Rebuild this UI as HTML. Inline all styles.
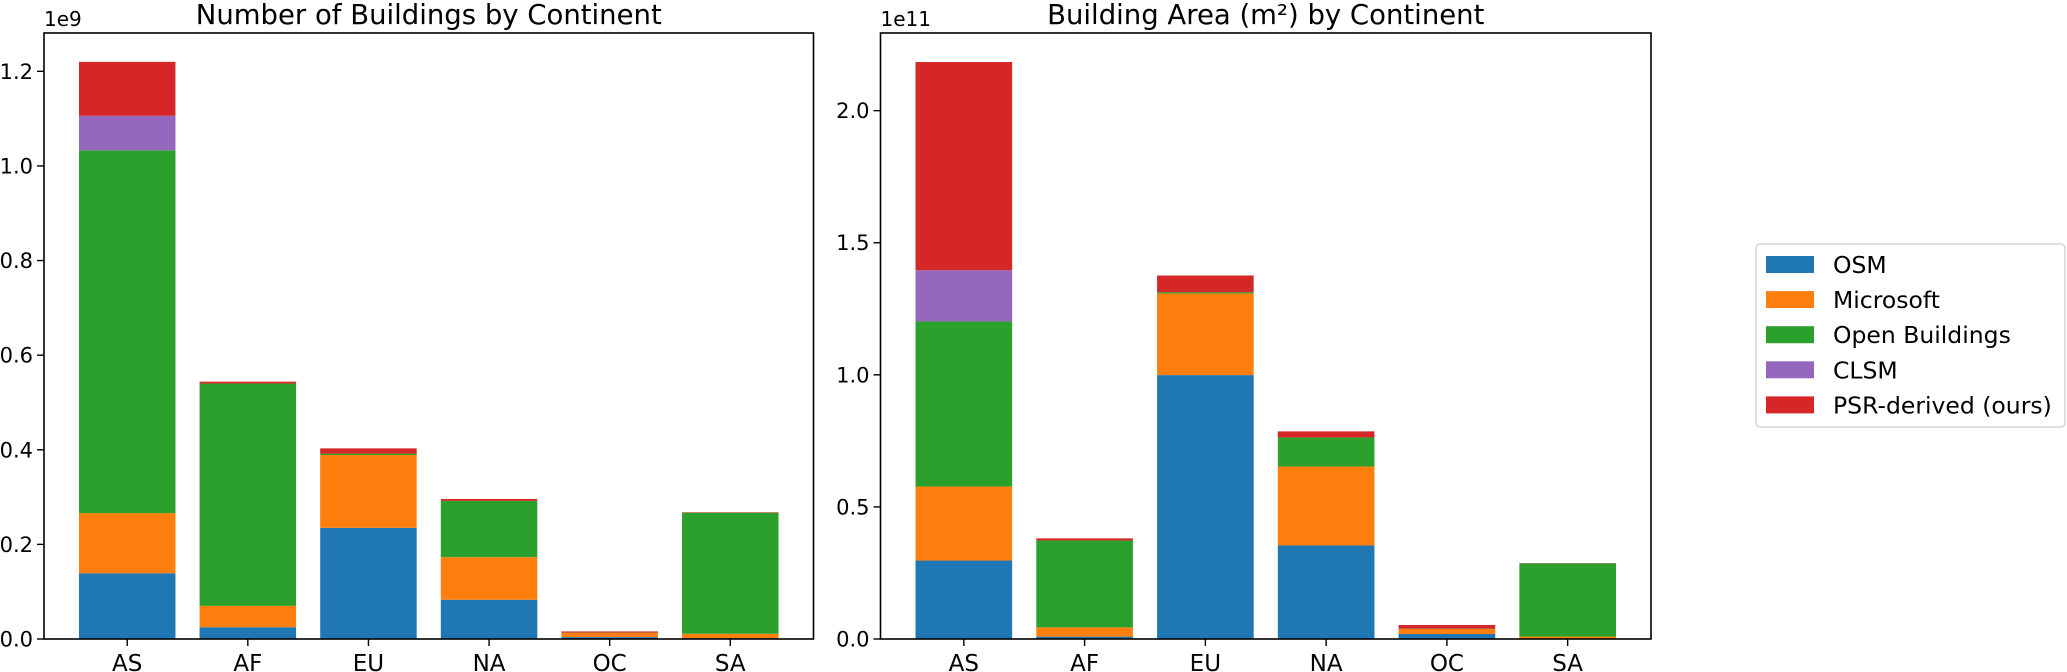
<!DOCTYPE html>
<html><head><meta charset="utf-8">
<style>
html,body{margin:0;padding:0;background:#fff;}
svg{display:block;font-family:"DejaVu Sans","Liberation Sans",sans-serif;}
</style></head>
<body>
<svg id="chart" width="2067" height="672" xmlns="http://www.w3.org/2000/svg"></svg>
<script>
const categories = ["AS","AF","EU","NA","OC","SA"];
const seriesNames = ["OSM","Microsoft","Open Buildings","CLSM","PSR-derived (ours)"];
const seriesColors = ["#1f77b4","#ff7f0e","#2ca02c","#9467bd","#d62728"];
// Number of buildings (1e9), per series per continent
const countOSM = [0.139,0.025,0.235,0.083,0.004,0.002];
const countMicrosoft = [0.127,0.045,0.154,0.090,0.009,0.009];
const countOpenBuildings = [0.767,0.470,0.003,0.119,0.0005,0.256];
const countCLSM = [0.073,0,0,0,0,0];
const countPSR = [0.114,0.004,0.011,0.004,0.0025,0.001];
// Building area (1e11 m2)
const areaOSM = [0.297,0.009,0.999,0.354,0.019,0.001];
const areaMicrosoft = [0.280,0.035,0.309,0.299,0.019,0.008];
const areaOpenBuildings = [0.625,0.329,0.005,0.110,0.001,0.277];
const areaCLSM = [0.194,0,0,0,0,0];
const areaPSR = [0.788,0.008,0.063,0.023,0.014,0.001];
const leftTicks = [0,0.2,0.4,0.6,0.8,1.0,1.2];
const leftTickLabels = ["0.0","0.2","0.4","0.6","0.8","1.0","1.2"];
const rightTicks = [0,0.5,1.0,1.5,2.0];
const rightTickLabels = ["0.0","0.5","1.0","1.5","2.0"];

const NS="http://www.w3.org/2000/svg";
const svg=document.getElementById('chart');
function mk(tag,attrs,parent){const e=document.createElementNS(NS,tag);for(const k in attrs)e.setAttribute(k,attrs[k]);(parent||svg).appendChild(e);return e;}

function drawPanel(opts){
  const g=mk('g',{});
  
  
  const L=opts.left,R=opts.right,T=33,B=639;
  const n=categories.length;
  const xmin=-0.69,xmax=n-1+0.69;
  const xs=v=>L+(v-xmin)/(xmax-xmin)*(R-L);
  const ys=v=>B-v/opts.ymax*(B-T);
  const bw=xs(0.4)-xs(-0.4);
  const cum=new Array(n).fill(0);
  opts.series.forEach((arr,si)=>{
    arr.forEach((v,ci)=>{
      const y0=ys(cum[ci]),y1=ys(cum[ci]+v);
      const r=mk('rect',{x:xs(ci)-bw/2,y:y1,width:bw,height:Math.max(0,y0-y1),fill:seriesColors[si]},g);
      
      
      cum[ci]+=v;
    });
  });
  const frame=mk('rect',{x:L,y:T,width:R-L,height:B-T,fill:'none',stroke:'#000','stroke-width':1.6},g);
  
  
  opts.ticks.forEach((t,i)=>{
    const y=ys(t);
    const tk=mk('line',{x1:L-7,x2:L,y1:y,y2:y,stroke:'#000','stroke-width':1.4},g);
    
    
    const tx=mk('text',{x:L-11,y:y+7.5,'text-anchor':'end','font-size':21},g);
    tx.textContent=opts.tickLabels[i];
    
    
  });
  categories.forEach((c,i)=>{
    const x=xs(i);
    const tk=mk('line',{x1:x,x2:x,y1:B,y2:B+7,stroke:'#000','stroke-width':1.4},g);
    
    
    const tx=mk('text',{x:x,y:B+32,'text-anchor':'middle','font-size':23},g);
    tx.textContent=c;
    
    
  });
  const off=mk('text',{x:L,y:26,'font-size':20},g);
  off.textContent=opts.offset;
  
  
  const ti=mk('text',{x:(L+R)/2,y:24,'text-anchor':'middle','font-size':27.5},g);
  ti.textContent=opts.title;
  
  
}

drawPanel({name:'buildings-count-panel',left:44,right:813.5,ymax:1.281,
  series:[countOSM,countMicrosoft,countOpenBuildings,countCLSM,countPSR],
  ticks:leftTicks,tickLabels:leftTickLabels,offset:'1e9',title:'Number of Buildings by Continent'});
drawPanel({name:'building-area-panel',left:880.5,right:1651,ymax:2.294,
  series:[areaOSM,areaMicrosoft,areaOpenBuildings,areaCLSM,areaPSR],
  ticks:rightTicks,tickLabels:rightTickLabels,offset:'1e11',title:'Building Area (m²) by Continent'});

// legend
const lg=mk('g',{});


const lb=mk('rect',{x:1756,y:244,width:309,height:183,rx:4,fill:'#fff',stroke:'#ccc','stroke-width':1.2},lg);


seriesNames.forEach((s,i)=>{
  const cy=264+i*35.1;
  const p=mk('rect',{x:1766,y:cy-8,width:48,height:17,fill:seriesColors[i]},lg);
  
  
  const t=mk('text',{x:1833,y:cy+9,'font-size':23.5},lg);
  t.textContent=s;
  
  
});
</script>
</body></html>
